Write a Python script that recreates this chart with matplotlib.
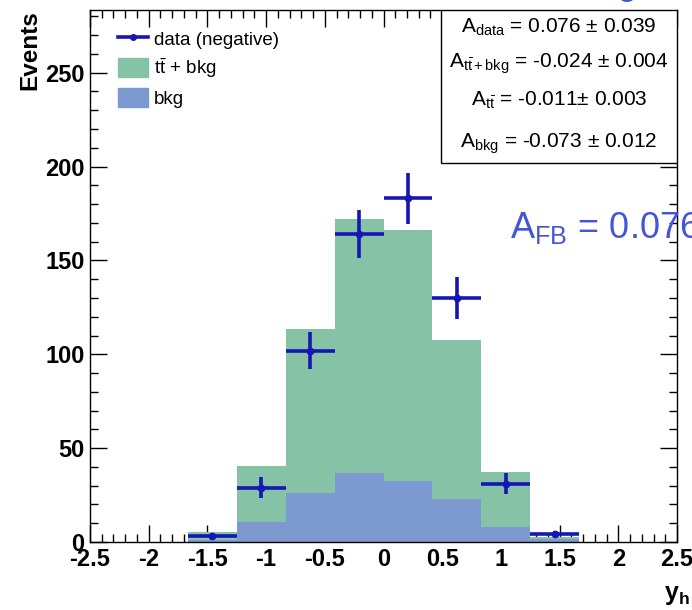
import numpy as np
import matplotlib
matplotlib.use("Agg")
import matplotlib.pyplot as plt
from matplotlib.lines import Line2D
from matplotlib.patches import Patch, Rectangle
from matplotlib.ticker import MultipleLocator

plt.rcParams['font.family'] = ['Liberation Sans', 'DejaVu Sans']
plt.rcParams['mathtext.fontset'] = 'custom'
plt.rcParams['mathtext.rm'] = 'Liberation Sans'
plt.rcParams['mathtext.it'] = 'Liberation Sans:italic'
plt.rcParams['mathtext.bf'] = 'Liberation Sans:bold'

# 12 bins in y_h from -2.5 to 2.5
edges = np.linspace(-2.5, 2.5, 13)
tt_bkg = [0, 0, 5.3, 40.5, 113.3, 172.0, 166.0, 107.4, 37.1, 2.5, 0, 0]
bkg = [0, 0, 1.0, 10.7, 26.1, 36.9, 32.5, 22.9, 7.8, 1.4, 0, 0]
data = [0, 0, 3, 29, 102, 164, 183, 130, 31, 4, 0, 0]

asym_lines = [
    r'A$_{\mathrm{data}}$ = 0.076 ± 0.039',
    r'A$_{\mathrm{t\bar{t}+bkg}}$ = -0.024 ± 0.004',
    r'A$_{\mathrm{t\bar{t}}}$ = -0.011± 0.003',
    r'A$_{\mathrm{bkg}}$ = -0.073 ± 0.012',
]
afb_text = r'A$_{\mathrm{FB}}$ = 0.076'

green = '#86c2a6'
blue = '#7c9ad0'
dark_blue = '#1616b4'
label_blue = '#4455d6'

fig = plt.figure(figsize=(6.92, 6.10), dpi=100)
ax = fig.add_axes([90 / 692, 1 - 542 / 610, 587 / 692, 532 / 610])

ax.stairs(tt_bkg, edges, fill=True, color=green, zorder=2)
ax.stairs(bkg, edges, fill=True, color=blue, zorder=2)

data = np.array(data, dtype=float)
centers = 0.5 * (edges[:-1] + edges[1:])
half_w = 0.5 * np.diff(edges)
m = data > 0
ax.errorbar(centers[m], data[m], xerr=half_w[m], yerr=np.sqrt(data[m]),
            fmt='o', ms=4.5, color=dark_blue, elinewidth=2.6, capsize=0, zorder=4)

ax.set_xlim(-2.5, 2.5)
ax.set_ylim(0, 283.4)
ax.set_axisbelow(True)
ax.xaxis.set_major_locator(MultipleLocator(0.5))
ax.xaxis.set_minor_locator(MultipleLocator(0.1))
ax.yaxis.set_major_locator(MultipleLocator(50))
ax.yaxis.set_minor_locator(MultipleLocator(10))
ax.set_xticks([-2.5, -2, -1.5, -1, -0.5, 0, 0.5, 1, 1.5, 2, 2.5])
ax.set_xticklabels(['-2.5', '-2', '-1.5', '-1', '-0.5', '0', '0.5', '1', '1.5', '2', '2.5'])
ax.tick_params(which='both', direction='in', top=True, right=True, width=1)
ax.tick_params(which='major', length=12, labelsize=17, pad=4)
ax.tick_params(which='minor', length=6)
for lab in ax.get_xticklabels() + ax.get_yticklabels():
    lab.set_fontweight('bold')
for sp in ax.spines.values():
    sp.set_linewidth(1)
    sp.set_zorder(5)

# legend
handles = [
    Line2D([], [], color=dark_blue, lw=2.6, marker='o', ms=4),
    Patch(color=green),
    Patch(color=blue),
]
labels = ['data (negative)', r'$\mathrm{t\bar{t}}$ + bkg', 'bkg']
ax.legend(handles, labels, loc='upper left', bbox_to_anchor=(0.048, 0.964),
          frameon=False, fontsize=13.5, borderpad=0, borderaxespad=0,
          handlelength=1.6, handleheight=1.2, handletextpad=0.3, labelspacing=0.4)

# asymmetry box
ax.add_patch(Rectangle((0.598, 0.712), 0.402, 0.288, transform=ax.transAxes,
                       facecolor='white', edgecolor='black', lw=1, zorder=6))
for txt, yb in zip(asym_lines, [0.957, 0.891, 0.821, 0.742]):
    ax.text(0.799, yb, txt, transform=ax.transAxes, ha='center', va='baseline',
            fontsize=15, zorder=7)

fig.text(510 / 692, 1 - 238 / 610, afb_text, color=label_blue, fontsize=26,
         ha='left', va='baseline')
# bottom of a title line running off the top edge
fig.text(627 / 692, 1 - 2 / 610, 'o', color=label_blue, fontsize=26,
         ha='center', va='baseline')

fig.text(30 / 692, 1 - 10 / 610, 'Events', rotation=90, ha='center', va='top',
         fontsize=17.5, fontweight='bold')
fig.text(690 / 692, 1 - 600 / 610, r'$\mathbf{y}_{\mathbf{h}}$', ha='right',
         va='baseline', fontsize=18)

fig.savefig('out.png', dpi=100)
